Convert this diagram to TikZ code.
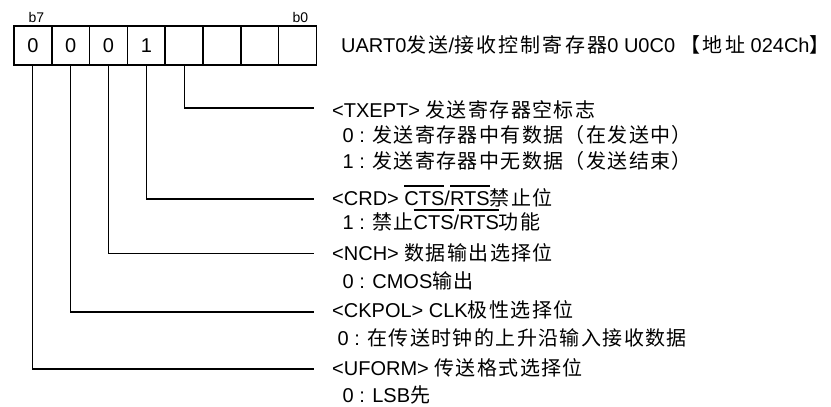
\documentclass[tikz,border=0pt]{standalone}
\usepackage{fontspec}
\setmainfont{Liberation Sans}
\newfontfamily\cjk[LetterSpace=7]{Noto Sans CJK SC}
\newfontfamily\cjkt[LetterSpace=11]{Noto Sans CJK SC}
\newcommand\myovl[1]{\leavevmode\setbox0\hbox{#1}\rlap{\raisebox{18.5pt}{\rule{\wd0}{1.3pt}}}\box0}
\begin{document}
\begin{tikzpicture}[x=1pt,y=-1pt,
  cell/.style={draw, line width=1.6pt, minimum width=37.81pt, minimum height=39pt, inner sep=0pt, font=\fontsize{20}{20}\selectfont},
  bitlbl/.style={anchor=base, inner sep=0pt, font=\fontsize{14}{14}\selectfont},
  lbl/.style={anchor=base west, inner sep=0pt, font=\fontsize{20}{20}\selectfont},
  conn/.style={line width=1.1pt}]
\useasboundingbox (0,0) rectangle (831,407);
% register cells (b7 ... b0)
\foreach \i/\v in {0/0,1/0,2/0,3/1,4/{},5/{},6/{},7/{}}{
  \node[cell] (c\i) at ({14+37.81*(\i+0.5)},45.5) {\v};
}
\node[bitlbl] (b7) at (36.5,22.5) {b7};
\node[bitlbl] (b0) at (300.5,22.5) {b0};
% title
\node[lbl] (title) at (341,52) {UART0{\cjkt 发送}/{\cjkt 接收控制寄存器}0 U0C0 {\cjkt 【地址} 024Ch{\cjkt 】}};
% descriptions
\node[lbl] (t1) at (332,117.5) {<TXEPT> {\cjk 发送寄存器空标志}};
\node[lbl] (t1a) at (342.5,142) {0 : {\cjk 发送寄存器中有数据（在发送中）}};
\node[lbl] (t1b) at (342.5,168.5) {1 : {\cjk 发送寄存器中无数据（发送结束）}};
\node[lbl] (t2) at (332,205) {<CRD> \myovl{CTS}/\myovl{RTS}{\cjk 禁止位}};
\node[lbl] (t2a) at (342.5,229) {1 : {\cjk 禁止}\myovl{CTS}/\myovl{RTS}{\cjk 功能}};
\node[lbl] (t3) at (332,260.5) {<NCH> {\cjk 数据输出选择位}};
\node[lbl] (t3a) at (342.5,288) {0 : CMOS{\cjk 输出}};
\node[lbl] (t4) at (332,317) {<CKPOL> CLK{\cjk 极性选择位}};
\node[lbl] (t4a) at (337.5,345) {0 : {\cjk 在传送时钟的上升沿输入接收数据}};
\node[lbl] (t5) at (332,375.5) {<UFORM> {\cjk 传送格式选择位}};
\node[lbl] (t5a) at (342.5,402) {0 : LSB{\cjk 先}};
% connector ends
\coordinate (e1) at (314,108);
\coordinate (e2) at (314,199);
\coordinate (e3) at (314,253.5);
\coordinate (e4) at (314,312);
\coordinate (e5) at (314,369);
\draw[conn] (c4.south) |- (e1);
\draw[conn] (c3.south) |- (e2);
\draw[conn] (c2.south) |- (e3);
\draw[conn] (c1.south) |- (e4);
\draw[conn] (c0.south) |- (e5);
\end{tikzpicture}
\end{document}
